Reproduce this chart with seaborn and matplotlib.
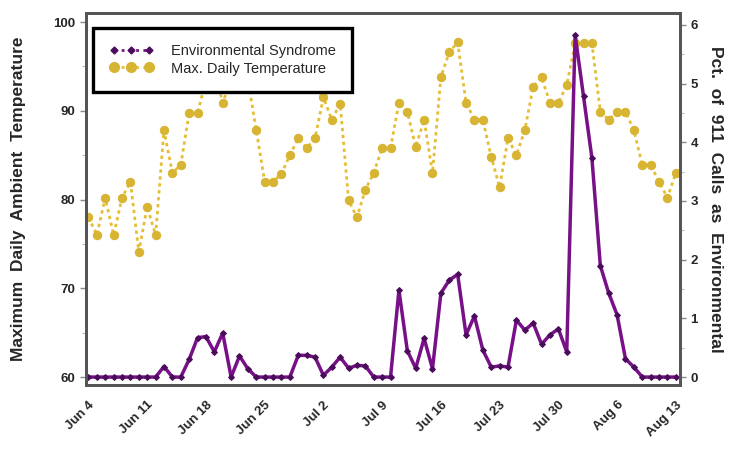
import numpy as np
import pandas as pd
import matplotlib
matplotlib.use("Agg")
import matplotlib.pyplot as plt
import matplotlib.dates as mdates
from matplotlib.lines import Line2D
import seaborn as sns

# ---- data ----
start_date = "2012-06-04"
n_days = 71
max_temp = [78.0, 76.0, 80.2, 76.0, 80.2, 82.0, 74.1, 79.2, 76.0, 87.8,
            83.0, 83.9, 89.7, 89.7, 93.5, 94.5, 90.9, 93.5, 94.5, 93.5,
            87.8, 82.0, 82.0, 82.9, 85.0, 86.9, 85.8, 86.9, 91.5, 89.0,
            90.8, 79.9, 78.0, 81.1, 83.0, 85.8, 85.8, 90.9, 89.9, 85.9,
            89.0, 83.0, 93.8, 96.6, 97.7, 90.9, 89.0, 89.0, 84.8, 81.4,
            86.9, 85.0, 87.8, 92.7, 93.8, 90.9, 90.9, 92.9, 97.6, 97.6,
            97.6, 89.9, 89.0, 89.9, 89.9, 87.8, 83.9, 83.9, 82.0, 80.2,
            83.0]
pct_env = [0, 0, 0, 0, 0, 0, 0, 0, 0, 0.18,
           0, 0, 0.30, 0.67, 0.69, 0.43, 0.75, 0.0, 0.36, 0.14,
           0, 0, 0, 0, 0, 0.37, 0.37, 0.34, 0.03, 0.17,
           0.34, 0.15, 0.20, 0.19, 0, 0, 0, 1.48, 0.45, 0.15,
           0.66, 0.14, 1.43, 1.65, 1.75, 0.72, 1.04, 0.46, 0.17, 0.19,
           0.17, 0.97, 0.80, 0.92, 0.56, 0.72, 0.82, 0.43, 5.83, 4.78,
           3.73, 1.90, 1.43, 1.06, 0.31, 0.17, 0, 0, 0, 0,
           0]
tick_dates = ["2012-06-04", "2012-06-11", "2012-06-18", "2012-06-25",
              "2012-07-02", "2012-07-09", "2012-07-16", "2012-07-23",
              "2012-07-30", "2012-08-06", "2012-08-13"]
tick_labels = ["Jun 4", "Jun 11", "Jun 18", "Jun 25", "Jul 2", "Jul 9",
               "Jul 16", "Jul 23", "Jul 30", "Aug 6", "Aug 13"]
series_names = ["Environmental Syndrome", "Max. Daily Temperature"]

dates = pd.date_range(start_date, periods=n_days, freq="D")
df = pd.DataFrame({"date": dates, "temp": max_temp, "pct": pct_env})

sns.set_style("white")
plt.rcParams["font.family"] = ["Liberation Sans", "DejaVu Sans"]

gold = "#E6BE35"
gold_mk = "#D8B433"
purple = "#781088"
purple_mk = "#4B0C5C"

fig = plt.figure(figsize=(7.32, 4.53), dpi=100)
ax = fig.add_axes([0.1175, 0.150, 0.8115, 0.821])
ax2 = ax.twinx()

sns.lineplot(data=df, x="date", y="temp", ax=ax, color=gold, lw=2.0,
             linestyle=(0, (1.2, 1.3)), marker="o", markersize=6.0,
             markeredgecolor=gold_mk, markerfacecolor=gold_mk)
sns.lineplot(data=df, x="date", y="pct", ax=ax2, color=purple, lw=2.5,
             marker="D", markersize=3.0, markeredgecolor=purple_mk,
             markerfacecolor=purple_mk)

ax.set_ylim(59.1, 101.0)
ax2.set_ylim(-0.136, 6.2)
d0 = pd.Timestamp(start_date)
ax.set_xlim(d0 - pd.Timedelta(hours=7), dates[-1] + pd.Timedelta(hours=12))

ax.set_yticks([60, 70, 80, 90, 100])
ax.set_yticks([65, 75, 85, 95], minor=True)
ax2.set_yticks([0, 1, 2, 3, 4, 5, 6])
ax2.set_yticks([0.5, 1.5, 2.5, 3.5, 4.5, 5.5], minor=True)
tdates = pd.to_datetime(tick_dates)
ax.set_xticks(tdates)
ax.set_xticklabels(tick_labels, rotation=45, ha="right", rotation_mode="anchor",
                   fontsize=8.5, fontweight="bold")
ax.set_xticks(tdates[:-1] + pd.Timedelta(hours=84), minor=True)

for a in (ax, ax2):
    a.tick_params(axis="both", which="major", length=4, width=1, color="#888888",
                  labelsize=9.5)
    a.tick_params(axis="both", which="minor", length=3, width=0.8, color="#bbbbbb")
    for s in a.spines.values():
        s.set_color("#555555")
        s.set_linewidth(2)
    for lab in a.get_yticklabels():
        lab.set_fontweight("bold")
ax.tick_params(axis="x", pad=6)

ax.set_xlabel("")
ax.set_ylabel("Maximum  Daily  Ambient  Temperature", fontsize=12.5,
              fontweight="bold", labelpad=20)
ax2.set_ylabel("Pct.  of  911  Calls  as  Environmental", fontsize=12.5,
               fontweight="bold", rotation=270, labelpad=18)

handles = [Line2D([], [], color=purple, linestyle=(0, (1.0, 1.6)), lw=2,
                  marker="D", markersize=3.5, markerfacecolor=purple_mk,
                  markeredgecolor=purple_mk),
           Line2D([], [], color=gold, linestyle=(0, (1.0, 1.6)), lw=2,
                  marker="o", markersize=7, markerfacecolor=gold_mk,
                  markeredgecolor=gold_mk)]
if ax2.get_legend():
    ax2.get_legend().remove()
leg = ax2.legend(handles, series_names, loc="upper left",
                 bbox_to_anchor=(0.0, 0.98), frameon=True, fancybox=False,
                 fontsize=10.5, handlelength=3.0, borderpad=1.1,
                 labelspacing=0.25, handletextpad=1.2, numpoints=3,
                 borderaxespad=0.5)
leg.get_frame().set_edgecolor("black")
leg.get_frame().set_linewidth(2.4)
leg.get_frame().set_alpha(1)

fig.savefig("out.png", dpi=100)
